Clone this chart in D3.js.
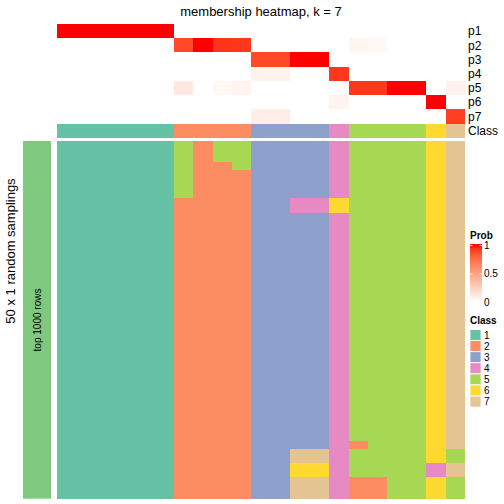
<!DOCTYPE html>
<html><head><meta charset="utf-8">
<script src="https://cdn.jsdelivr.net/npm/d3@7"></script>
<style>body{margin:0;background:#fff}svg{display:block;font-family:"Liberation Sans",Arial,sans-serif}</style>
</head><body><svg id="c" width="504" height="504"></svg>
<script>
// ---- data ----
const probRows = ["p1","p2","p3","p4","p5","p6","p7"];
const colClass = [1,1,1,1,1,1,2,2,2,2,3,3,3,3,4,5,5,5,5,6,7];
const p1 = [1,1,1,1,1,1,0,0,0,0,0,0,0,0,0,0,0,0,0,0,0];
const p2 = [0,0,0,0,0,0,0.87,1,0.93,0.92,0,0,0,0,0,0.05,0.04,0,0,0,0];
const p3 = [0,0,0,0,0,0,0,0,0,0,0.87,0.87,1,1,0,0,0,0,0,0,0];
const p4 = [0,0,0,0,0,0,0,0,0,0,0.07,0.07,0,0,0.92,0,0,0,0,0,0];
const p5 = [0,0,0,0,0,0,0.12,0,0.04,0.06,0,0,0,0,0,0.92,0.92,1,1,0,0.07];
const p6 = [0,0,0,0,0,0,0,0,0,0,0,0,0,0,0.06,0,0,0,0,1,0];
const p7 = [0,0,0,0,0,0,0,0,0,0,0.09,0.09,0,0,0,0,0,0,0,0,0.9];
// membership class per sampling (50 rows, in groups of 10) for each of the 21 columns
const samplingCols = [
  "1111111111"+"1111111111"+"1111111111"+"1111111111"+"1111111111",
  "1111111111"+"1111111111"+"1111111111"+"1111111111"+"1111111111",
  "1111111111"+"1111111111"+"1111111111"+"1111111111"+"1111111111",
  "1111111111"+"1111111111"+"1111111111"+"1111111111"+"1111111111",
  "1111111111"+"1111111111"+"1111111111"+"1111111111"+"1111111111",
  "1111111111"+"1111111111"+"1111111111"+"1111111111"+"1111111111",
  "5555555522"+"2222222222"+"2222222222"+"2222222222"+"2222222222",
  "2222222222"+"2222222222"+"2222222222"+"2222222222"+"2222222222",
  "5552222222"+"2222222222"+"2222222222"+"2222222222"+"2222222222",
  "5555222222"+"2222222222"+"2222222222"+"2222222222"+"2222222222",
  "3333333333"+"3333333333"+"3333333333"+"3333333333"+"3333333333",
  "3333333333"+"3333333333"+"3333333333"+"3333333333"+"3333333333",
  "3333333344"+"3333333333"+"3333333333"+"3333333333"+"3337766777",
  "3333333344"+"3333333333"+"3333333333"+"3333333333"+"3337766777",
  "4444444466"+"4444444444"+"4444444444"+"4444444444"+"4444444444",
  "5555555555"+"5555555555"+"5555555555"+"5555555555"+"5525555222",
  "5555555555"+"5555555555"+"5555555555"+"5555555555"+"5555555222",
  "5555555555"+"5555555555"+"5555555555"+"5555555555"+"5555555555",
  "5555555555"+"5555555555"+"5555555555"+"5555555555"+"5555555555",
  "6666666666"+"6666666666"+"6666666666"+"6666666666"+"6666644666",
  "7777777777"+"7777777777"+"7777777777"+"7777777777"+"7775577555"
];
const classKeys = ["1","2","3","4","5","6","7"];
const classColors = ["#66C2A5","#FC8D62","#8DA0CB","#E78AC3","#A6D854","#FFD92F","#E5C494"];
const probTicks = [0,0.5,1];
const titleText = "membership heatmap, k = 7";
const leftLabel = "50 x 1 random samplings";
const barLabel = "top 1000 rows";
</script>
<script>
const probs = [p1,p2,p3,p4,p5,p6,p7];
const svg = d3.select("#c");
const nCol = colClass.length;
const x = d3.scaleBand().domain(d3.range(nCol)).range([57.3,465]).paddingInner(0);
const yTop = d3.scaleBand().domain(probRows).range([24,123.5]);
const probColor = d3.scaleLinear().domain([0,1]).range(["#ffffff","#ff0000"]).interpolate(d3.interpolateLab);
const classColor = d3.scaleOrdinal().domain(classKeys).range(classColors);
const ov = 0.8;

probRows.forEach((r,i)=>{
  svg.append("g").attr("shape-rendering","crispEdges").selectAll("rect").data(probs[i]).join("rect")
    .attr("x",(d,j)=>x(j)).attr("width",(d,j)=>x.bandwidth()+(j<nCol-1?ov:0))
    .attr("y",yTop(r)).attr("height",yTop.bandwidth()+(i<probRows.length-1?ov:0))
    .attr("fill",d=>probColor(d));
  svg.append("text").attr("x",468).attr("y",yTop(r)+yTop.bandwidth()/2).attr("dy","0.35em")
    .attr("font-size",12).text(r);
});
// class row
svg.append("g").attr("shape-rendering","crispEdges").selectAll("rect").data(colClass).join("rect")
  .attr("x",(d,j)=>x(j)).attr("width",(d,j)=>x.bandwidth()+(j<nCol-1?ov:0))
  .attr("y",124.3).attr("height",13.7).attr("fill",d=>classColor(String(d)));
svg.append("text").attr("x",468).attr("y",131.2).attr("dy","0.35em").attr("font-size",12).text("Class");

// body
const nRow = 50;
const yBody = d3.scaleBand().domain(d3.range(nRow)).range([141,498.7]);
const bodyData = [];
samplingCols.forEach((s,j)=>{
  for (let i=0;i<nRow;i++) bodyData.push({i,j,c:s[i]});
});
svg.append("g").attr("shape-rendering","crispEdges").selectAll("rect").data(bodyData).join("rect")
  .attr("x",d=>x(d.j)).attr("width",d=>x.bandwidth()+(d.j<nCol-1?ov:0))
  .attr("y",d=>yBody(d.i)).attr("height",d=>yBody.bandwidth()+(d.i<nRow-1?ov:0))
  .attr("fill",d=>classColor(d.c));

// left bar
svg.append("rect").attr("x",23).attr("y",141).attr("width",28).attr("height",357.7).attr("fill","#7FC97F");
svg.append("text").attr("transform","translate(37,320) rotate(-90)").attr("text-anchor","middle")
  .attr("dy","0.35em").attr("font-size",10).text(barLabel);
svg.append("text").attr("transform","translate(10,251) rotate(-90)").attr("text-anchor","middle")
  .attr("dy","0.35em").attr("font-size",13).text(leftLabel);

// title
svg.append("text").attr("x",261).attr("y",11).attr("dy","0.35em").attr("text-anchor","middle")
  .attr("font-size",13).text(titleText);

// Prob legend
const lg = svg.append("g");
lg.append("text").attr("x",470).attr("y",235.5).attr("dy","0.35em").attr("font-size",10).attr("font-weight","bold").text("Prob");
const yl = d3.scaleLinear().domain([0,1]).range([302,245.5]);
const defs = svg.append("defs");
const grad = defs.append("linearGradient").attr("id","pg").attr("x1",0).attr("y1",1).attr("x2",0).attr("y2",0);
d3.range(0,1.01,0.1).forEach(t=>grad.append("stop").attr("offset",t).attr("stop-color",probColor(t)));
lg.append("rect").attr("x",470).attr("y",244).attr("width",12).attr("height",58).attr("fill","url(#pg)");
probTicks.forEach(t=>{
  if (t>0) {
    lg.append("line").attr("x1",470).attr("x2",472.5).attr("y1",yl(t)).attr("y2",yl(t)).attr("stroke","#fff").attr("stroke-width",0.8);
    lg.append("line").attr("x1",479.5).attr("x2",482).attr("y1",yl(t)).attr("y2",yl(t)).attr("stroke","#fff").attr("stroke-width",0.8);
  }
  lg.append("text").attr("x",484).attr("y",yl(t)).attr("dy","0.35em").attr("font-size",10).text(t);
});

// Class legend
lg.append("text").attr("x",470).attr("y",320).attr("dy","0.35em").attr("font-size",10).attr("font-weight","bold").text("Class");
classKeys.forEach((k,i)=>{
  lg.append("rect").attr("x",470).attr("y",329.5+i*11.1).attr("width",11).attr("height",11)
    .attr("fill",classColor(k)).attr("stroke","#fff").attr("stroke-width",0.8);
  lg.append("text").attr("x",484).attr("y",335+i*11.1).attr("dy","0.35em").attr("font-size",10).text(k);
});
</script>
</body></html>
